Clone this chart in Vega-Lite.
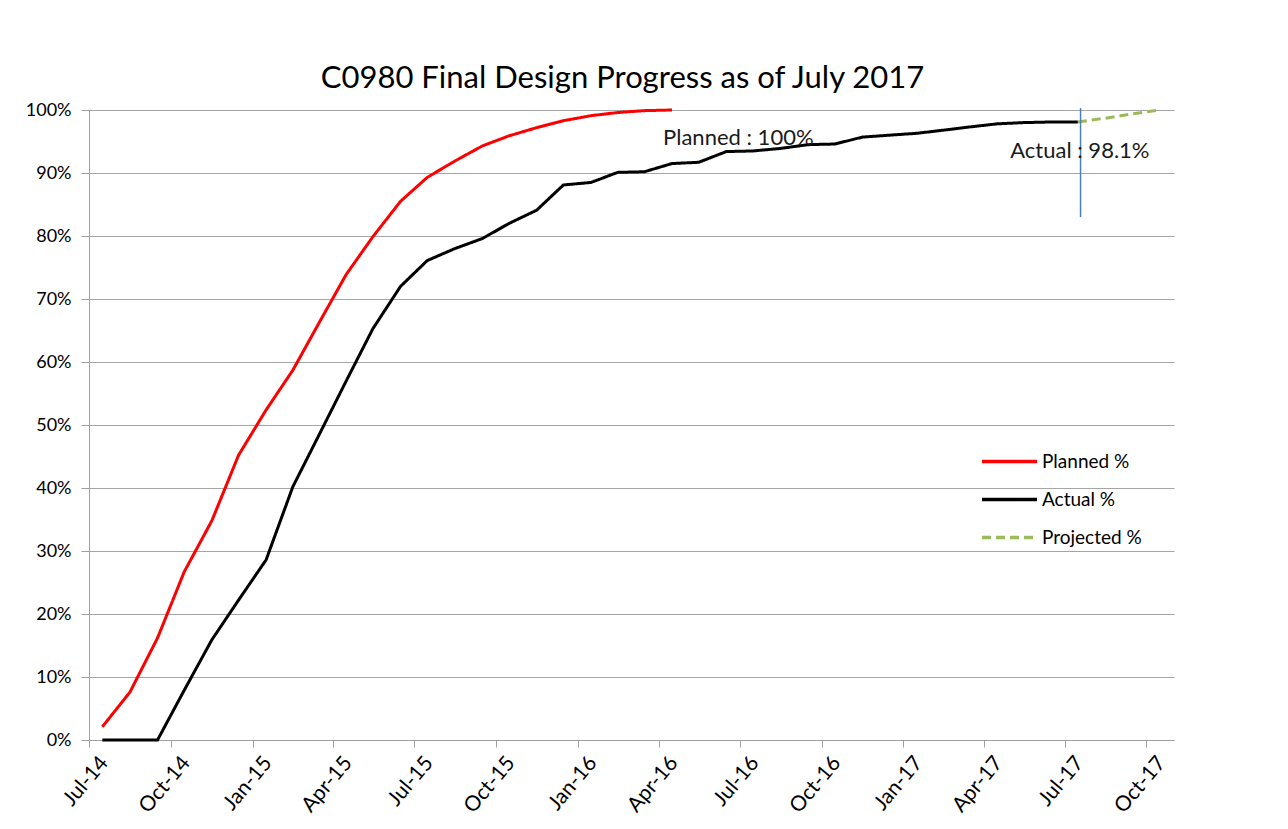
{
  "$schema": "https://vega.github.io/schema/vega-lite/v6.json",
  "width": 1085,
  "height": 630,
  "autosize": {"type": "none"},
  "padding": {"left": 89, "top": 110, "right": 114, "bottom": 89},
  "background": "white",
  "config": {"view": {"stroke": null}, "font": "Lato"},
  "title": {"text": "C0980 Final Design Progress as of July 2017", "fontSize": 31, "font": "Lato", "fontWeight": "normal", "color": "black", "anchor": "middle", "offset": 6, "dx": -9},
  "datasets": {
    "series": [
      {"date": "2014-07-16", "value": 0.021, "series": "Planned %"},
      {"date": "2014-08-16", "value": 0.076, "series": "Planned %"},
      {"date": "2014-09-16", "value": 0.162, "series": "Planned %"},
      {"date": "2014-10-16", "value": 0.267, "series": "Planned %"},
      {"date": "2014-11-16", "value": 0.348, "series": "Planned %"},
      {"date": "2014-12-16", "value": 0.452, "series": "Planned %"},
      {"date": "2015-01-16", "value": 0.524, "series": "Planned %"},
      {"date": "2015-02-15", "value": 0.587, "series": "Planned %"},
      {"date": "2015-03-16", "value": 0.661, "series": "Planned %"},
      {"date": "2015-04-16", "value": 0.739, "series": "Planned %"},
      {"date": "2015-05-16", "value": 0.799, "series": "Planned %"},
      {"date": "2015-06-16", "value": 0.855, "series": "Planned %"},
      {"date": "2015-07-16", "value": 0.893, "series": "Planned %"},
      {"date": "2015-08-16", "value": 0.919, "series": "Planned %"},
      {"date": "2015-09-16", "value": 0.943, "series": "Planned %"},
      {"date": "2015-10-16", "value": 0.959, "series": "Planned %"},
      {"date": "2015-11-16", "value": 0.972, "series": "Planned %"},
      {"date": "2015-12-16", "value": 0.983, "series": "Planned %"},
      {"date": "2016-01-16", "value": 0.991, "series": "Planned %"},
      {"date": "2016-02-15", "value": 0.996, "series": "Planned %"},
      {"date": "2016-03-16", "value": 0.999, "series": "Planned %"},
      {"date": "2016-04-16", "value": 1.0, "series": "Planned %"},
      {"date": "2014-07-16", "value": 0.0, "series": "Actual %"},
      {"date": "2014-08-16", "value": 0.0, "series": "Actual %"},
      {"date": "2014-09-16", "value": 0.0, "series": "Actual %"},
      {"date": "2014-10-16", "value": 0.079, "series": "Actual %"},
      {"date": "2014-11-16", "value": 0.159, "series": "Actual %"},
      {"date": "2014-12-16", "value": 0.222, "series": "Actual %"},
      {"date": "2015-01-16", "value": 0.286, "series": "Actual %"},
      {"date": "2015-02-15", "value": 0.402, "series": "Actual %"},
      {"date": "2015-03-16", "value": 0.483, "series": "Actual %"},
      {"date": "2015-04-16", "value": 0.570, "series": "Actual %"},
      {"date": "2015-05-16", "value": 0.653, "series": "Actual %"},
      {"date": "2015-06-16", "value": 0.720, "series": "Actual %"},
      {"date": "2015-07-16", "value": 0.761, "series": "Actual %"},
      {"date": "2015-08-16", "value": 0.780, "series": "Actual %"},
      {"date": "2015-09-16", "value": 0.796, "series": "Actual %"},
      {"date": "2015-10-16", "value": 0.820, "series": "Actual %"},
      {"date": "2015-11-16", "value": 0.841, "series": "Actual %"},
      {"date": "2015-12-16", "value": 0.881, "series": "Actual %"},
      {"date": "2016-01-16", "value": 0.885, "series": "Actual %"},
      {"date": "2016-02-15", "value": 0.901, "series": "Actual %"},
      {"date": "2016-03-16", "value": 0.902, "series": "Actual %"},
      {"date": "2016-04-16", "value": 0.915, "series": "Actual %"},
      {"date": "2016-05-16", "value": 0.917, "series": "Actual %"},
      {"date": "2016-06-16", "value": 0.934, "series": "Actual %"},
      {"date": "2016-07-16", "value": 0.935, "series": "Actual %"},
      {"date": "2016-08-16", "value": 0.939, "series": "Actual %"},
      {"date": "2016-09-16", "value": 0.945, "series": "Actual %"},
      {"date": "2016-10-16", "value": 0.946, "series": "Actual %"},
      {"date": "2016-11-16", "value": 0.957, "series": "Actual %"},
      {"date": "2016-12-16", "value": 0.960, "series": "Actual %"},
      {"date": "2017-01-16", "value": 0.963, "series": "Actual %"},
      {"date": "2017-02-15", "value": 0.968, "series": "Actual %"},
      {"date": "2017-03-16", "value": 0.973, "series": "Actual %"},
      {"date": "2017-04-16", "value": 0.978, "series": "Actual %"},
      {"date": "2017-05-16", "value": 0.980, "series": "Actual %"},
      {"date": "2017-06-16", "value": 0.981, "series": "Actual %"},
      {"date": "2017-07-16", "value": 0.981, "series": "Actual %"},
      {"date": "2017-07-16", "value": 0.981, "series": "Projected %"},
      {"date": "2017-08-16", "value": 0.987, "series": "Projected %"},
      {"date": "2017-09-16", "value": 0.994, "series": "Projected %"},
      {"date": "2017-10-16", "value": 1.0, "series": "Projected %"}
    ],
    "marker": [
      {"date": "2017-07-19", "low": 0.83, "high": 1.003}
    ],
    "notes": [
      {"date": "2016-04-06", "value": 0.9556, "label": "Planned : 100%"},
      {"date": "2017-05-01", "value": 0.935, "label": "Actual : 98.1%"}
    ]
  },
  "layer": [
    {
      "data": {"name": "series"},
      "mark": {"type": "line", "strokeWidth": 3},
      "encoding": {
        "x": {
          "field": "date", "type": "temporal",
          "scale": {"type": "utc", "nice": false, "domain": [{"year": 2014, "month": 7, "date": 1, "utc": true}, {"year": 2017, "month": 11, "date": 1, "utc": true}]},
          "axis": {"title": null, "labelExpr": "utcFormat(datum.value, '%b-%y')", "tickCount": {"interval": "month", "step": 3}, "labelAngle": -50, "labelAlign": "right", "labelBaseline": "middle", "labelFontSize": 21, "labelFont": "Lato", "labelColor": "black", "domainColor": "#A0A0A0", "tickColor": "#A0A0A0", "tickSize": 7, "labelPadding": 12, "labelOffset": 15, "grid": false, "labelFlush": false, "labelOverlap": false}
        },
        "y": {
          "field": "value", "type": "quantitative",
          "scale": {"domain": [0, 1], "nice": false},
          "axis": {"title": null, "format": ".0%", "values": [0, 0.1, 0.2, 0.3, 0.4, 0.5, 0.6, 0.7, 0.8, 0.9, 1.0], "grid": true, "gridColor": "#A6A6A6", "domainColor": "#A0A0A0", "tickColor": "#A0A0A0", "tickSize": 8, "labelPadding": 10, "labelFontSize": 18, "labelFont": "Lato", "labelColor": "black"}
        },
        "color": {
          "field": "series", "type": "nominal",
          "scale": {"domain": ["Planned %", "Actual %", "Projected %"], "range": ["#FF0000", "#000000", "#9BBB59"]},
          "legend": {"title": null, "orient": "none", "legendX": 905, "legendY": 336, "symbolType": "M-2,0H2", "symbolSize": 756, "symbolStrokeWidth": 3.5, "labelFontSize": 19, "labelFont": "Lato", "labelColor": "black", "labelOffset": 17, "rowPadding": 12}
        },
        "strokeDash": {
          "field": "series", "type": "nominal",
          "scale": {"domain": ["Planned %", "Actual %", "Projected %"], "range": [[1, 0], [1, 0], [9, 5]]},
          "legend": {"title": null, "orient": "none", "legendX": 905, "legendY": 336, "symbolType": "M-2,0H2", "symbolSize": 756, "symbolStrokeWidth": 3.5, "labelFontSize": 19, "labelFont": "Lato", "labelColor": "black", "labelOffset": 17, "rowPadding": 12}
        }
      }
    },
    {
      "data": {"name": "marker"},
      "mark": {"type": "rule", "color": "#4A7EBB", "strokeWidth": 1.5},
      "encoding": {
        "x": {"field": "date", "type": "temporal"},
        "y": {"field": "low", "type": "quantitative"},
        "y2": {"field": "high"}
      }
    },
    {
      "data": {"name": "notes"},
      "mark": {"type": "text", "align": "left", "baseline": "middle", "fontSize": 22, "font": "Lato", "color": "#1a1a1a"},
      "encoding": {
        "x": {"field": "date", "type": "temporal"},
        "y": {"field": "value", "type": "quantitative"},
        "text": {"field": "label"}
      }
    }
  ]
}
